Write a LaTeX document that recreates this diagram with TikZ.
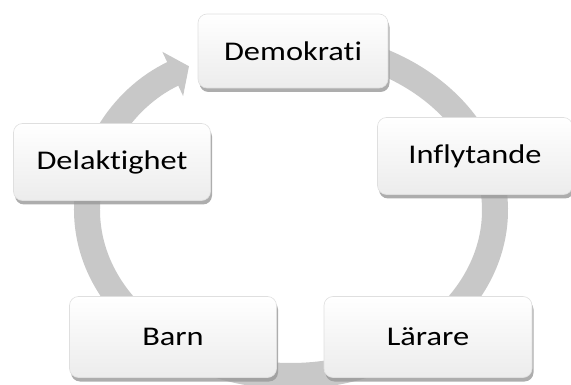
\documentclass[tikz,border=0pt]{standalone}
\usepackage{fontspec}
\setmainfont{Carlito}[FakeStretch=1.2, Ligatures=NoCommon]
\usetikzlibrary{arrows.meta,shadows}
\definecolor{ringgray}{RGB}{200,200,200}
\definecolor{boxgray}{RGB}{236,236,236}
\tikzset{
  cyclebox/.style={rectangle, rounded corners=9pt, draw=gray!25, line width=0.6pt,
    top color=white, bottom color=boxgray, minimum height=77pt, inner sep=0pt,
    font=\fontsize{27}{30}\selectfont,
    drop shadow={shadow xshift=1.5pt, shadow yshift=-4pt, fill=gray!80, opacity=0.8}},
}
\begin{document}
\begin{tikzpicture}[x=1pt, y=-1pt]
	\useasboundingbox (0,0) rectangle (571,385);
	% the ring, running clockwise behind the boxes
	\draw[ringgray, line width=26pt, -{Triangle[length=18pt, width=48pt]}]
		(291,210) ++(265:204 and 166) arc[start angle=265, end angle=600, x radius=204, y radius=166];
	% the five boxes
	\node[cyclebox, minimum width=190pt, minimum height=74pt] (demokrati) at (293,51) {Demokrati};
	\node[cyclebox, minimum width=195pt] (inflytande) at (475,156) {Inflytande};
	\node[cyclebox, minimum width=208pt, minimum height=81pt] (larare) at (428,337) {Lärare};
	\node[cyclebox, minimum width=207pt, minimum height=81pt] (barn) at (173,337) {Barn};
	\node[cyclebox, minimum width=197pt] (delaktighet) at (112,162) {Delaktighet};
\end{tikzpicture}
\end{document}
